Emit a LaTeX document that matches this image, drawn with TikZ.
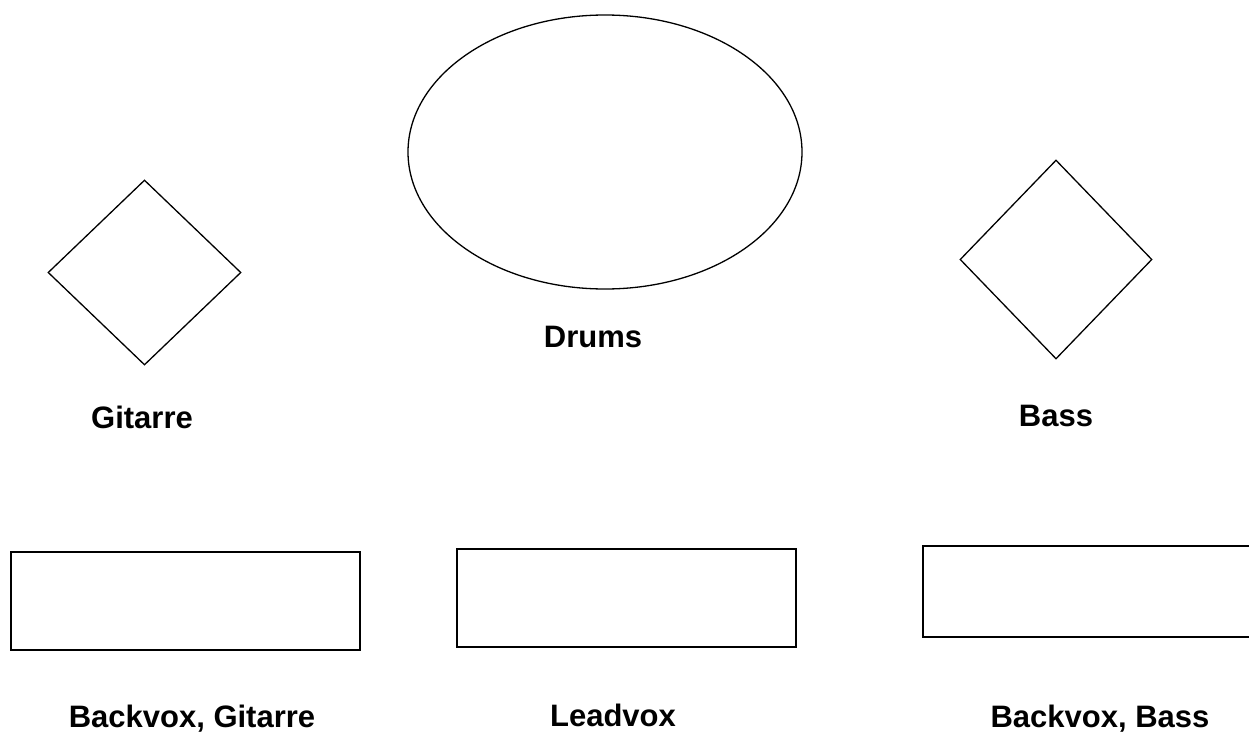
\documentclass[tikz,border=0pt]{standalone}
\usepackage{fontspec}
\setmainfont{Liberation Sans}
\usetikzlibrary{shapes.geometric}
\tikzset{oval node/.style={ellipse,draw,line width=1.3pt,inner sep=0pt,minimum width=394pt,minimum height=274pt},
rhomb node/.style={diamond,draw,line width=1.3pt,inner sep=0pt},
box node/.style={rectangle,draw,line width=1.3pt,inner sep=0pt},
caption node/.style={anchor=base,inner sep=0pt,font=\fontsize{31}{31}\selectfont\bfseries},
}

\begin{document}
\begin{tikzpicture}[x=1pt,y=-1pt]
	\useasboundingbox (0,0) rectangle (1249,733);
	\node[oval node] (drums) at (605,152) {};
	\node[rhomb node,minimum width=193pt,minimum height=185pt] (gitarre) at (144.5,272.5) {};
	\node[rhomb node,minimum width=192pt,minimum height=199pt] (bass) at (1056,259.5) {};
	\node[box node,minimum width=349pt,minimum height=98pt] (backgit) at (185.5,601) {};
	\node[box node,minimum width=339pt,minimum height=98pt] (lead) at (626.5,598) {};
	\node[box node,minimum width=332pt,minimum height=91pt] (backbass) at (1089,591.5) {};
	
	
	\node[caption node] (drumstext) at (593,347) {Drums};
	\node[caption node] (gitarretext) at (142,428) {Gitarre};
	\node[caption node] (basstext) at (1056,426) {Bass};
	\node[caption node] (backgittext) at (192,727) {Backvox, Gitarre};
	\node[caption node] (leadtext) at (613,726) {Leadvox};
	\node[caption node] (backbasstext) at (1100,727) {Backvox, Bass};
	\end{tikzpicture}
\end{document}
